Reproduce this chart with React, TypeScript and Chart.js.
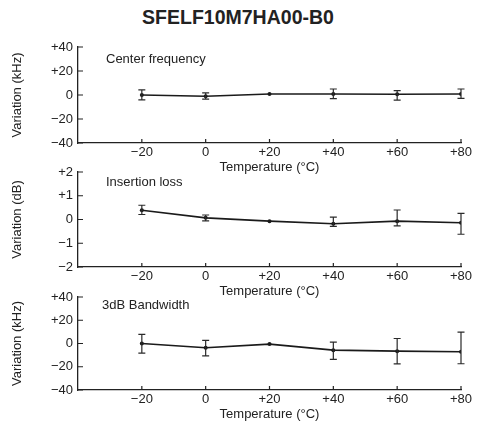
import React, { useEffect, useRef } from "react";
import { Chart, registerables } from "chart.js";

Chart.register(...registerables);

// ---- data ----
const temperatures = [-20, 0, 20, 40, 60, 80];
const xTickValues = [-20, 0, 20, 40, 60, 80];
const xTickLabels = ["−20", "0", "+20", "+40", "+60", "+80"];

const khzTickValues = [-40, -20, 0, 20, 40];
const khzTickLabels = ["−40", "−20", "0", "+20", "+40"];
const dbTickValues = [-2, -1, 0, 1, 2];
const dbTickLabels = ["−2", "−1", "0", "+1", "+2"];

const centerFreq = [0, -1, 0.8, 0.8, 0.6, 0.8];
const centerFreqHigh = [4.2, 1.7, null, 5, 3.6, 5];
const centerFreqLow = [-4, -3.4, null, -3.1, -4.3, -2.8];

const insertionLoss = [0.39, 0.07, -0.07, -0.18, -0.07, -0.14];
const insertionLossHigh = [0.6, 0.19, null, 0.1, 0.4, 0.26];
const insertionLossLow = [0.21, -0.06, null, -0.29, -0.27, -0.62];

const bandwidth = [0, -3.7, -0.5, -5.7, -6.6, -7.1];
const bandwidthHigh = [7.8, 2.7, null, 1.2, 4.3, 9.8];
const bandwidthLow = [-8.2, -10.6, null, -13.7, -17.6, -17.4];

const FONT = "'Liberation Sans', Arial, Helvetica, sans-serif";
const INK = "#222";

type PanelProps = {
  values: number[];
  high: (number | null)[];
  low: (number | null)[];
  yTicks: number[];
  yLabels: string[];
  yTitle: string;
  note: string;
  noteDx: number;
  noteDy: number;
  top: number;
  height: number;
};

function Panel(p: PanelProps) {
  const ref = useRef<HTMLCanvasElement | null>(null);
  useEffect(() => {
    if (!ref.current) return;
    const yMin = p.yTicks[0];
    const yMax = p.yTicks[p.yTicks.length - 1];

    const decorPlugin = {
      id: "decor",
      afterDatasetsDraw(chart: any) {
        const ctx = chart.ctx;
        const xs = chart.scales.x;
        const ys = chart.scales.y;
        const area = chart.chartArea;
        ctx.save();
        // inward ticks
        ctx.strokeStyle = INK;
        ctx.lineWidth = 1.2;
        ctx.beginPath();
        xTickValues.forEach((v) => {
          const x = xs.getPixelForValue(v);
          ctx.moveTo(x, area.bottom);
          ctx.lineTo(x, area.bottom - 4);
        });
        p.yTicks.forEach((v) => {
          const y = ys.getPixelForValue(v);
          ctx.moveTo(area.left, y);
          ctx.lineTo(area.left + 5, y);
        });
        ctx.stroke();
        // error bars
        ctx.strokeStyle = "#2a2a2a";
        ctx.lineWidth = 1.2;
        temperatures.forEach((t, i) => {
          const hi = p.high[i];
          const lo = p.low[i];
          if (hi == null || lo == null) return;
          const x = xs.getPixelForValue(t);
          const yh = ys.getPixelForValue(hi);
          const yl = ys.getPixelForValue(lo);
          ctx.beginPath();
          ctx.moveTo(x, yh);
          ctx.lineTo(x, yl);
          ctx.moveTo(x - 3.5, yh);
          ctx.lineTo(x + 3.5, yh);
          ctx.moveTo(x - 3.5, yl);
          ctx.lineTo(x + 3.5, yl);
          ctx.stroke();
        });
        // note
        ctx.fillStyle = INK;
        ctx.font = `13px ${FONT}`;
        ctx.textBaseline = "middle";
        ctx.textAlign = "left";
        ctx.fillText(p.note, area.left + p.noteDx, area.top + p.noteDy);
        ctx.restore();
      },
    };

    const chart = new Chart(ref.current, {
      type: "line",
      data: {
        labels: temperatures,
        datasets: [
          {
            data: temperatures.map((t, i) => ({ x: t, y: p.values[i] })),
            borderColor: "#1a1a1a",
            borderWidth: 1.6,
            pointRadius: 2,
            pointBackgroundColor: "#1a1a1a",
            pointBorderWidth: 0,
            tension: 0,
            fill: false,
          },
        ],
      },
      options: {
        animation: false,
        responsive: false,
        devicePixelRatio: 1,
        layout: { padding: { top: 17, right: 19, left: 0, bottom: 0 } },
        plugins: { legend: { display: false }, tooltip: { enabled: false }, title: { display: false } },
        scales: {
          x: {
            type: "linear",
            min: -40,
            max: 80,
            afterBuildTicks: (s: any) => {
              s.ticks = xTickValues.map((v) => ({ value: v }));
            },
            afterFit: (s: any) => {
              s.height = 32;
            },
            grid: { display: false, drawTicks: false },
            border: { display: true, color: INK, width: 1.3 },
            ticks: {
              padding: 2,
              color: INK,
              font: { family: FONT, size: 13 },
              maxRotation: 0,
              autoSkip: false,
              callback: (v: any) => xTickLabels[xTickValues.indexOf(Number(v))] ?? "",
            },
            title: {
              display: true,
              text: "Temperature (°C)",
              color: INK,
              font: { family: FONT, size: 13 },
              padding: { top: 0, bottom: 0 },
            },
          },
          y: {
            type: "linear",
            min: yMin,
            max: yMax,
            afterBuildTicks: (s: any) => {
              s.ticks = p.yTicks.map((v) => ({ value: v }));
            },
            afterFit: (s: any) => {
              s.width = 78;
            },
            grid: { display: false, drawTicks: false },
            border: { display: true, color: INK, width: 1.3 },
            ticks: {
              padding: 5,
              color: INK,
              font: { family: FONT, size: 13 },
              autoSkip: false,
              callback: (v: any) => p.yLabels[p.yTicks.indexOf(Number(v))] ?? "",
            },
            title: {
              display: true,
              text: p.yTitle,
              color: INK,
              font: { family: FONT, size: 13 },
              padding: { top: 10, bottom: 0 },
            },
          },
        },
      },
      plugins: [decorPlugin],
    } as any);
    return () => chart.destroy();
  }, []);
  return (
    <canvas
      ref={ref}
      width={480}
      height={p.height}
      style={{ position: "absolute", left: 0, top: p.top, width: 480, height: p.height }}
    />
  );
}

export default function App() {
  return (
    <div style={{ position: "absolute", left: 0, top: 0, width: 480, height: 425, background: "#fff" }}>
      <div
        style={{
          position: "absolute",
          left: 0,
          top: 0,
          width: 476,
          height: 34,
          lineHeight: "34px",
          textAlign: "center",
          fontFamily: FONT,
          fontWeight: "bold",
          fontSize: 19.5,
          color: INK,
        }}
      >
        SFELF10M7HA00-B0
      </div>
      <Panel
        values={centerFreq}
        high={centerFreqHigh}
        low={centerFreqLow}
        yTicks={khzTickValues}
        yLabels={khzTickLabels}
        yTitle="Variation (kHz)"
        note="Center frequency"
        noteDx={28}
        noteDy={12}
        top={30}
        height={145}
      />
      <Panel
        values={insertionLoss}
        high={insertionLossHigh}
        low={insertionLossLow}
        yTicks={dbTickValues}
        yLabels={dbTickLabels}
        yTitle="Variation (dB)"
        note="Insertion loss"
        noteDx={28}
        noteDy={10}
        top={155}
        height={144}
      />
      <Panel
        values={bandwidth}
        high={bandwidthHigh}
        low={bandwidthLow}
        yTicks={khzTickValues}
        yLabels={khzTickLabels}
        yTitle="Variation (kHz)"
        note="3dB Bandwidth"
        noteDx={24}
        noteDy={8}
        top={280}
        height={142}
      />
    </div>
  );
}
